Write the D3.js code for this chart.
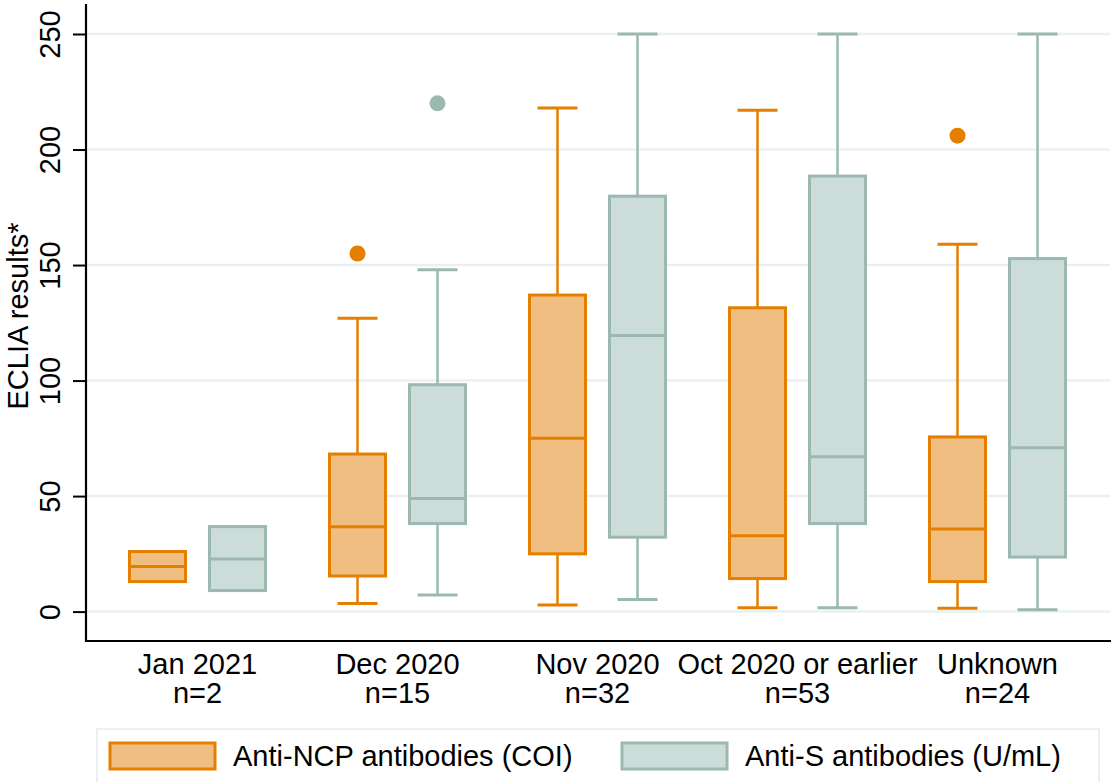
<!DOCTYPE html>
<html lang="en">
<head>
<meta charset="UTF-8">
<title>ECLIA box plot</title>
<script src="https://cdn.jsdelivr.net/npm/d3@7"></script>
<style>
  body { margin: 0; background: #fff; }
  text { font-family: "Liberation Sans", Arial, sans-serif; fill: #000; }
</style>
</head>
<body>
<div id="box"></div>
<script>
// categories and counts
var cats = ["Jan 2021", "Dec 2020", "Nov 2020", "Oct 2020 or earlier", "Unknown"];
var counts = [2, 15, 32, 53, 24];
var series = ["Anti-NCP antibodies (COI)", "Anti-S antibodies (U/mL)"];
var yTicks = [0, 50, 100, 150, 200, 250];

// box stats per category: [low whisker, q1, median, q3, high whisker]
var ncpStats = [
  [null, 13, 19.5, 26, null],
  [3.5, 15.4, 36.7, 68.2, 127],
  [2.9, 25, 75, 137, 218],
  [1.7, 14.3, 32.8, 131.5, 217],
  [1.4, 13, 35.8, 75.6, 159]
];
var sStats = [
  [null, 9.1, 22.8, 36.8, null],
  [7.2, 38.1, 48.9, 98.2, 148],
  [5.2, 32.2, 119.5, 179.8, 250],
  [1.7, 38.1, 67, 188.5, 250],
  [0.8, 23.6, 70.9, 152.8, 250]
];
var ncpOutliers = [[], [155], [], [], [206]];
var sOutliers = [[], [220], [], [], []];

var width = 1112, height = 782;
var colors = {
  stroke: ["#e47f00", "#9bb8b1"],
  fill: ["#f0be80", "#cbdcd9"]
};

var svg = d3.select("#box").append("svg")
  .attr("width", width)
  .attr("height", height);

var y = d3.scaleLinear().domain([0, 250]).range([611.6, 34]);
var x = d3.scaleBand().domain(cats).range([97.5, 1097.5]);
var xs = d3.scalePoint().domain(series).range([-40, 40]);
var boxW = 59, capW = 40;

// gridlines
svg.append("g").selectAll("line")
  .data(yTicks)
  .enter().append("line")
  .attr("x1", 87).attr("x2", 1110)
  .attr("y1", d => y(d)).attr("y2", d => y(d))
  .attr("stroke", "#eaf0f1").attr("stroke-width", 2.5);

// y axis
var yAxis = d3.axisLeft(y).tickValues(yTicks).tickSize(13).tickPadding(10);
var gy = svg.append("g").attr("transform", "translate(86,0)").call(yAxis);
gy.select(".domain").remove();
gy.selectAll(".tick line").attr("stroke", "#000").attr("stroke-width", 2);
gy.selectAll(".tick text")
  .style("font-size", "29px")
  .attr("text-anchor", "middle")
  .attr("transform", "rotate(-90)")
  .attr("x", 0).attr("y", -26).attr("dy", 0);
svg.append("line")
  .attr("x1", 86).attr("x2", 86).attr("y1", 4).attr("y2", 642)
  .attr("stroke", "#000").attr("stroke-width", 2.2);

// x axis line
svg.append("line")
  .attr("x1", 85).attr("x2", 1111).attr("y1", 641).attr("y2", 641)
  .attr("stroke", "#000").attr("stroke-width", 2.2);

// x labels
var xl = svg.append("g").selectAll("text")
  .data(cats)
  .enter().append("text")
  .attr("x", d => x(d) + x.bandwidth() / 2)
  .attr("y", 674)
  .attr("text-anchor", "middle")
  .style("font-size", "29px");
xl.append("tspan").text(d => d);
xl.append("tspan")
  .attr("x", d => x(d) + x.bandwidth() / 2)
  .attr("dy", 29)
  .text((d, i) => "n=" + counts[i]);

// y label
svg.append("text")
  .attr("transform", "translate(28," + 316 + ") rotate(-90)")
  .attr("text-anchor", "middle")
  .style("font-size", "29px")
  .text("ECLIA results*");

// boxes
var allStats = [ncpStats, sStats];
var allOut = [ncpOutliers, sOutliers];
series.forEach(function(s, si) {
  var g = svg.append("g");
  var data = cats.map((c, i) => ({ cat: c, st: allStats[si][i], out: allOut[si][i] }));
  var grp = g.selectAll("g").data(data).enter().append("g")
    .attr("transform", d => "translate(" + (x(d.cat) + x.bandwidth() / 2 + xs(s)) + ",0)");

  var wd = grp.filter(d => d.st[0] !== null);
  // whiskers
  wd.append("line")
    .attr("x1", 0).attr("x2", 0)
    .attr("y1", d => y(d.st[3])).attr("y2", d => y(d.st[4]))
    .attr("stroke", colors.stroke[si]).attr("stroke-width", 2.5);
  wd.append("line")
    .attr("x1", 0).attr("x2", 0)
    .attr("y1", d => y(d.st[1])).attr("y2", d => y(d.st[0]))
    .attr("stroke", colors.stroke[si]).attr("stroke-width", 2.5);
  wd.append("line")
    .attr("x1", -capW / 2).attr("x2", capW / 2)
    .attr("y1", d => y(d.st[4])).attr("y2", d => y(d.st[4]))
    .attr("stroke", colors.stroke[si]).attr("stroke-width", 3);
  wd.append("line")
    .attr("x1", -capW / 2).attr("x2", capW / 2)
    .attr("y1", d => y(d.st[0])).attr("y2", d => y(d.st[0]))
    .attr("stroke", colors.stroke[si]).attr("stroke-width", 3);

  grp.append("rect")
    .attr("x", -boxW / 2 + 1.5)
    .attr("width", boxW - 3)
    .attr("y", d => y(d.st[3]))
    .attr("height", d => y(d.st[1]) - y(d.st[3]))
    .attr("fill", colors.fill[si])
    .attr("stroke", colors.stroke[si]).attr("stroke-width", 3);
  grp.append("line")
    .attr("x1", -boxW / 2 + 1.5).attr("x2", boxW / 2 - 1.5)
    .attr("y1", d => y(d.st[2])).attr("y2", d => y(d.st[2]))
    .attr("stroke", colors.stroke[si]).attr("stroke-width", 3);

  grp.selectAll("circle").data(d => d.out).enter().append("circle")
    .attr("cx", 0).attr("cy", d => y(d)).attr("r", 8)
    .attr("fill", colors.stroke[si]);
});

// legend
var lg = svg.append("g");
lg.append("rect")
  .attr("x", 97).attr("y", 729).attr("width", 1002).attr("height", 70)
  .attr("fill", "#fff").attr("stroke", "#eaf0f1").attr("stroke-width", 2);
var legX = [110, 622];
series.forEach(function(s, si) {
  lg.append("rect")
    .attr("x", legX[si]).attr("y", 743).attr("width", 105).attr("height", 26)
    .attr("fill", colors.fill[si]).attr("stroke", colors.stroke[si]).attr("stroke-width", 3);
  lg.append("text")
    .attr("x", legX[si] + 123).attr("y", 766)
    .style("font-size", "29px")
    .text(s);
});
</script>
</body>
</html>
